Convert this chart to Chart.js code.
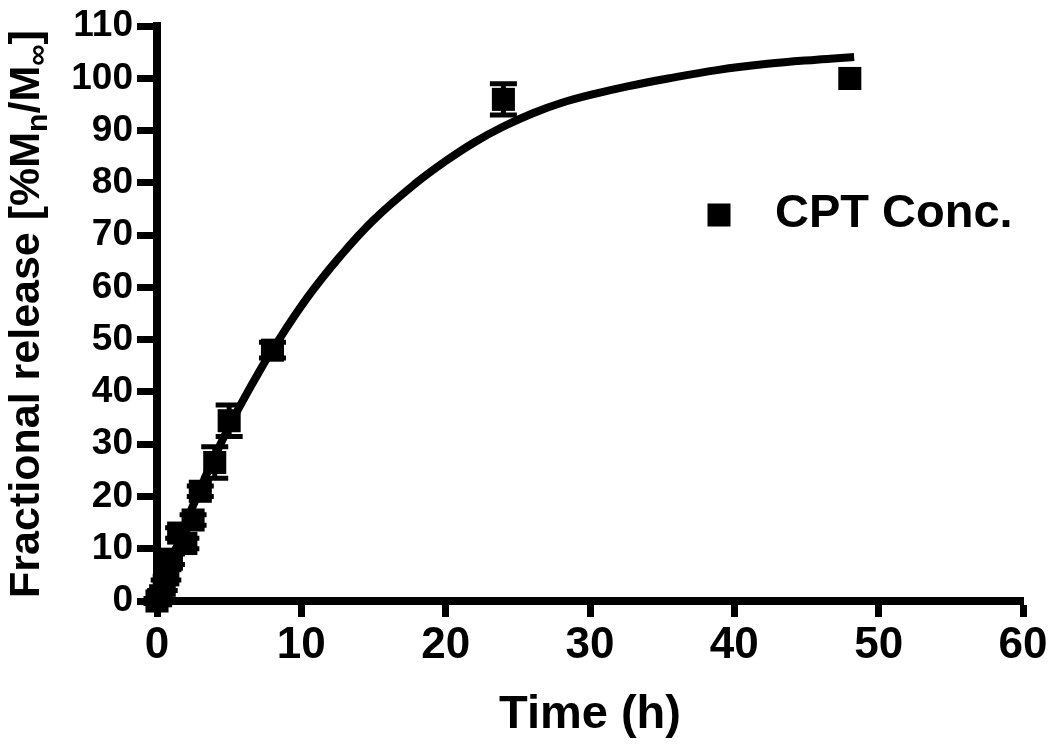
<!DOCTYPE html>
<html>
<head>
<meta charset="utf-8">
<script src="https://cdn.jsdelivr.net/npm/chart.js@4.4.1/dist/chart.umd.min.js"></script>
<style>
  body { margin: 0; background: #fff; }
  #wrap { width: 1050px; height: 747px; }
</style>
</head>
<body>
<div id="wrap"><canvas id="releaseChart" width="1050" height="747"></canvas></div>
<script>
// measured release (mean, error)
const timeH      = [0, 0.25, 0.5, 0.75, 1, 1.5, 2, 2.5, 3, 4, 5, 8, 24, 48];
const releasePct = [0, 1, 3, 5, 8, 13, 11, 15.5, 21, 26.5, 34.5, 48, 96, 100];
const releaseErr = [0.5, 1, 1, 1, 1, 1, 1, 1, 1, 3, 3, 1.5, 3, 0];

// fitted curve
const fitTime = [0, 1, 2, 3, 4, 5, 6, 7, 8, 10.4, 12.7, 15, 18, 20, 22, 24, 26, 28, 30.4, 32.6, 35.4, 38.8, 42.3, 45.7, 48.3];
const fitPct  = [0, 7.7, 14.9, 21.5, 27.7, 33.4, 38.6, 43.5, 48.1, 58, 66, 72.9, 80.1, 84.2, 87.8, 90.8, 93.3, 95.3, 97.1, 98.5, 100.0, 101.6, 102.8, 103.6, 104.1];

const xTicks = [0, 10, 20, 30, 40, 50, 60];
const yTicks = [0, 10, 20, 30, 40, 50, 60, 70, 80, 90, 100, 110];

const FONT = "'Liberation Sans', Arial, Helvetica, sans-serif";
const NARROW = "'Liberation Sans Narrow', 'Arial Narrow', 'Liberation Sans', sans-serif";

const overlay = {
    id: 'overlay',
    afterDatasetsDraw(chart) {
        const { ctx, scales: { x, y } } = chart;
        ctx.save();
        ctx.strokeStyle = '#000';
        // error bars
        timeH.forEach((t, i) => {
            const e = releaseErr[i];
            if (!e) return;
            const px = x.getPixelForValue(t);
            const top = y.getPixelForValue(releasePct[i] + e);
            const bot = y.getPixelForValue(releasePct[i] - e);
            ctx.lineWidth = 5;
            ctx.beginPath();
            ctx.moveTo(px, top); ctx.lineTo(px, bot);
            ctx.moveTo(px - 13.5, top); ctx.lineTo(px + 13.5, top);
            ctx.moveTo(px - 13.5, bot); ctx.lineTo(px + 13.5, bot);
            ctx.stroke();
        });
        ctx.restore();
    },
    afterDraw(chart) {
        const { ctx } = chart;
        ctx.save();
        ctx.fillStyle = '#000';
        // legend
        ctx.fillRect(719 - 11.5, 215 - 11.5, 23, 23);
        ctx.font = 'bold 47px ' + FONT;
        ctx.textBaseline = 'middle';
        ctx.textAlign = 'left';
        ctx.fillText(chart.data.datasets[0].label, 775, 214);

        // y title with subscripts
        const parts = [
            ['Fractional release [%M', 43, 0],
            ['n', 30, 8],
            ['/M', 43, 0],
            ['\u221E', 30, 8],
            [']', 43, 0]
        ];
        let total = 0;
        parts.forEach(p => { ctx.font = 'bold ' + p[1] + 'px ' + FONT; total += ctx.measureText(p[0]).width; });
        ctx.translate(24, 314);
        ctx.rotate(-Math.PI / 2);
        ctx.textBaseline = 'alphabetic';
        let cx = -total / 2;
        parts.forEach(p => {
            ctx.font = 'bold ' + p[1] + 'px ' + FONT;
            ctx.fillText(p[0], cx, 15 + p[2]);
            cx += ctx.measureText(p[0]).width;
        });
        ctx.restore();
    }
};

new Chart(document.getElementById('releaseChart'), {
    type: 'scatter',
    data: {
        datasets: [
            {
                label: 'CPT Conc.',
                data: timeH.map((t, i) => ({ x: t, y: releasePct[i] })),
                pointStyle: 'rect',
                pointRadius: 16.3,
                backgroundColor: '#000',
                borderColor: '#000',
                borderWidth: 0,
                clip: false
            },
            {
                label: 'fit',
                data: fitTime.map((t, i) => ({ x: t, y: fitPct[i] })),
                showLine: true,
                borderColor: '#000',
                borderWidth: 8,
                pointRadius: 0,
                tension: 0.4,
                clip: false
            }
        ]
    },
    options: {
        responsive: false,
        animation: false,
        devicePixelRatio: 1,
        layout: { padding: { top: 23, right: 27, left: 0, bottom: 0 } },
        plugins: {
            legend: { display: false },
            tooltip: { enabled: false }
        },
        events: [],
        scales: {
            x: {
                type: 'linear',
                min: 0, max: 60,
                afterBuildTicks: s => { s.ticks = xTicks.map(v => ({ value: v })); },
                afterFit: s => { s.height = 747 - 601; },
                ticks: { color: '#000', font: { family: NARROW, size: 44, weight: 'bold' }, padding: 2, maxRotation: 0 },
                grid: { drawOnChartArea: false, tickLength: 16, tickWidth: 7, tickColor: '#000' },
                border: { width: 8, color: '#000' },
                title: { display: true, text: 'Time (h)', color: '#000', font: { family: FONT, size: 47, weight: 'bold' }, padding: { top: 0, bottom: 4 } }
            },
            y: {
                type: 'linear',
                min: 0, max: 110,
                afterBuildTicks: s => { s.ticks = yTicks.map(v => ({ value: v })); },
                afterFit: s => { s.width = 157; },
                ticks: { color: '#000', font: { family: FONT, size: 37, weight: 'bold' }, padding: 4 },
                grid: { drawOnChartArea: false, tickLength: 20, tickWidth: 7, tickColor: '#000' },
                border: { width: 8, color: '#000' }
            }
        }
    },
    plugins: [overlay]
});
</script>
</body>
</html>
